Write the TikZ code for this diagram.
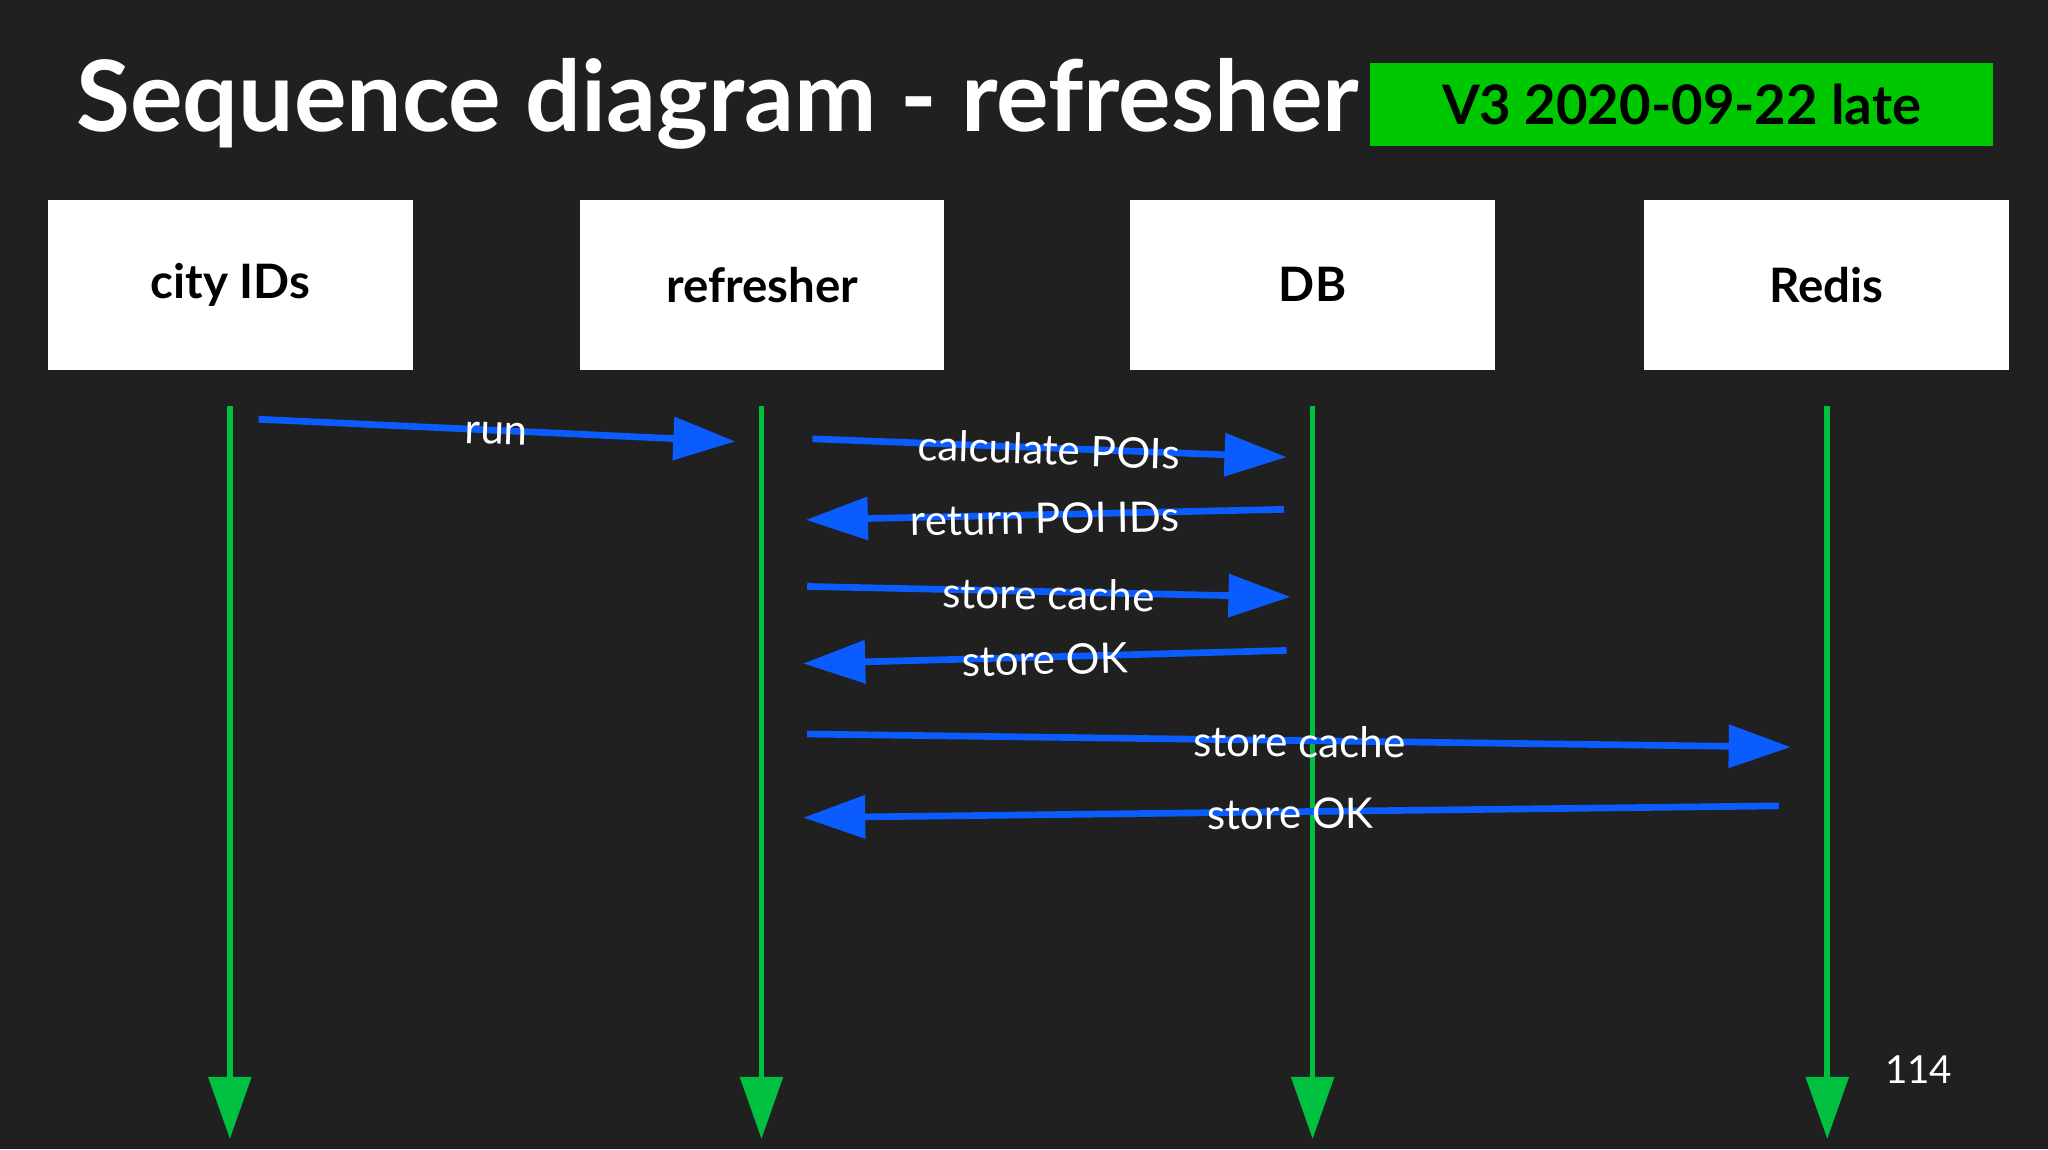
\documentclass[tikz,border=0pt]{standalone}
\usepackage{fontspec}
\setmainfont{Lato}
\usetikzlibrary{arrows.meta}
\definecolor{bg}{HTML}{202020}
\definecolor{lg}{HTML}{00C040}
\definecolor{bl}{HTML}{0A5CFF}
\definecolor{tg}{HTML}{00C800}
\begin{document}
\begin{tikzpicture}[x=0.01306cm,y=-0.01306cm,
  box/.style={fill=white,draw=none,minimum width=279*0.01306cm,minimum height=130*0.01306cm,font=\fontsize{13.5}{15}\selectfont\bfseries,text=black},
  life/.style={draw=lg,line width=1.6pt,-{Triangle[length=0.62cm,width=0.42cm]}},
  msg/.style={draw=bl,line width=1.9pt,-{Triangle[length=0.62cm,width=0.42cm]}},
  lab/.style={text=white,font=\fontsize{12}{14}\selectfont}]
\fill[bg] (0,0) rectangle (1568,880);
\useasboundingbox (0,0) rectangle (1568,880);
\node[anchor=base west,text=white,font=\fontsize{28}{32}\selectfont\bfseries,inner sep=0] (title) at (58,101) {Sequence diagram - refresher};
\node[fill=tg,minimum width=477*0.01306cm,minimum height=64*0.01306cm,font=\fontsize{15.5}{18}\selectfont\bfseries,text=black] (ver) at (1287.5,80) {V3 2020-09-22 late};
\node[box] (c) at (176.5,218) {city IDs};
\node[box] (r) at (583.5,218) {refresher};
\node[box] (d) at (1005,218) {DB};
\node[box] (x) at (1398.5,218) {Redis};
\foreach \n/\px in {c/176,r/583,d/1005,x/1399}{
  \coordinate (\n t) at (\px,311); \coordinate (\n b) at (\px,872);
  \draw[life] (\n t) -- (\n b);}
\coordinate (a1) at (198,321); \coordinate (b1) at (563,338);
\coordinate (a2) at (622,336); \coordinate (b2) at (985,350);
\coordinate (a3) at (983,390); \coordinate (b3) at (617,398);
\coordinate (a4) at (618,449); \coordinate (b4) at (988,457);
\coordinate (a5) at (985,498); \coordinate (b5) at (615,508);
\coordinate (a6) at (618,562); \coordinate (b6) at (1371,572);
\coordinate (a7) at (1362,617); \coordinate (b7) at (615,626);
\foreach \i in {1,...,7}{\draw[msg] (a\i) -- (b\i);}
\node[lab,rotate=-2] (l1) at (380,332) {run};
\node[lab,rotate=-2] (l2) at (803,344) {calculate POIs};
\node[lab,rotate=1] (l3) at (800,397) {return POI IDs};
\node[lab,rotate=-1] (l4) at (803,455) {store cache};
\node[lab,rotate=1.5] (l5) at (800,505) {store OK};
\node[lab,rotate=-0.5] (l6) at (995,568) {store cache};
\node[lab,rotate=0.5] (l7) at (988,623) {store OK};
\node[text=white,font=\fontsize{11}{13}\selectfont] (pg) at (1469,819) {114};
\end{tikzpicture}
\end{document}
